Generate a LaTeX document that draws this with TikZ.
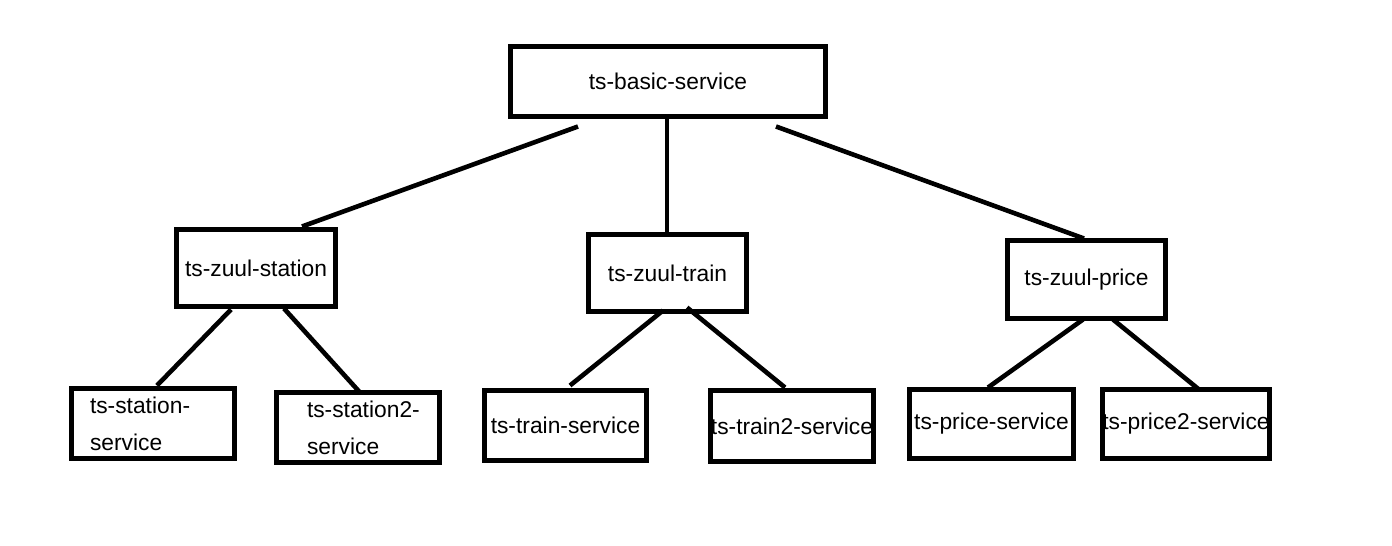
\documentclass[tikz,border=0pt]{standalone}
\usepackage{fontspec}
\setmainfont{Liberation Sans}
\begin{document}
\begin{tikzpicture}[x=1pt,y=-1pt,
  box/.style={draw, line width=5pt, inner sep=0pt, outer sep=0pt,
    font=\fontsize{22.8}{37}\selectfont},
  conn/.style={line width=4.6pt}]
\useasboundingbox (0,0) rectangle (1392,546);
% top
\node[box, minimum width=315pt, minimum height=70pt] (basic) at (668,81.5) {ts-basic-service};
% middle
\node[box, minimum width=159pt, minimum height=77pt] (zst) at (256,268) {ts-zuul-station};
\node[box, minimum width=158pt, minimum height=77pt] (ztr) at (667.5,273) {ts-zuul-train};
\node[box, minimum width=158pt, minimum height=78pt] (zpr) at (1086.5,279.5) {ts-zuul-price};
% bottom
\node[box, minimum width=163pt, minimum height=70pt, text width=126pt, align=left] (ss) at (153,423.5) {\mbox{ts-station-}\\service};
\node[box, minimum width=163pt, minimum height=70pt, text width=102pt, align=left] (ss2) at (358,427.5) {\mbox{ts-station2-}\\service};
\node[box, minimum width=162pt, minimum height=70pt] (ts) at (565.5,425.5) {ts-train-service};
\node[box, minimum width=163pt, minimum height=71pt] (ts2) at (792,426) {ts-train2-service};
\node[box, minimum width=164pt, minimum height=69pt] (ps) at (991.5,424) {ts-price-service};
\node[box, minimum width=163pt, minimum height=69pt] (ps2) at (1186,424) {ts-price2-service};
% connectors
\draw[conn] ([xshift=-90pt,yshift=-10pt]basic.south) -- ([xshift=46pt,yshift=3pt]zst.north);
\draw[conn] ([xshift=-1pt]basic.south) -- ([xshift=-0.5pt]ztr.north);
\draw[conn] ([xshift=108pt,yshift=-10pt]basic.south) -- ([xshift=-2.5pt,yshift=2pt]zpr.north);
\draw[conn] ([xshift=-25pt,yshift=-3pt]zst.south) -- ([xshift=4pt,yshift=3pt]ss.north);
\draw[conn] ([xshift=28pt,yshift=-2pt]zst.south) -- ([xshift=2pt]ss2.north);
\draw[conn] ([xshift=-4.5pt,yshift=1pt]ztr.south) -- ([xshift=4.5pt,yshift=5pt]ts.north);
\draw[conn] ([xshift=19.5pt,yshift=4pt]ztr.south) -- ([xshift=-7pt,yshift=3pt]ts2.north);
\draw[conn] ([xshift=-3.5pt,yshift=-1pt]zpr.south) -- ([xshift=-3.5pt,yshift=2pt]ps.north);
\draw[conn] ([xshift=26.5pt,yshift=-1pt]zpr.south) -- ([xshift=13pt]ps2.north);
\end{tikzpicture}
\end{document}
